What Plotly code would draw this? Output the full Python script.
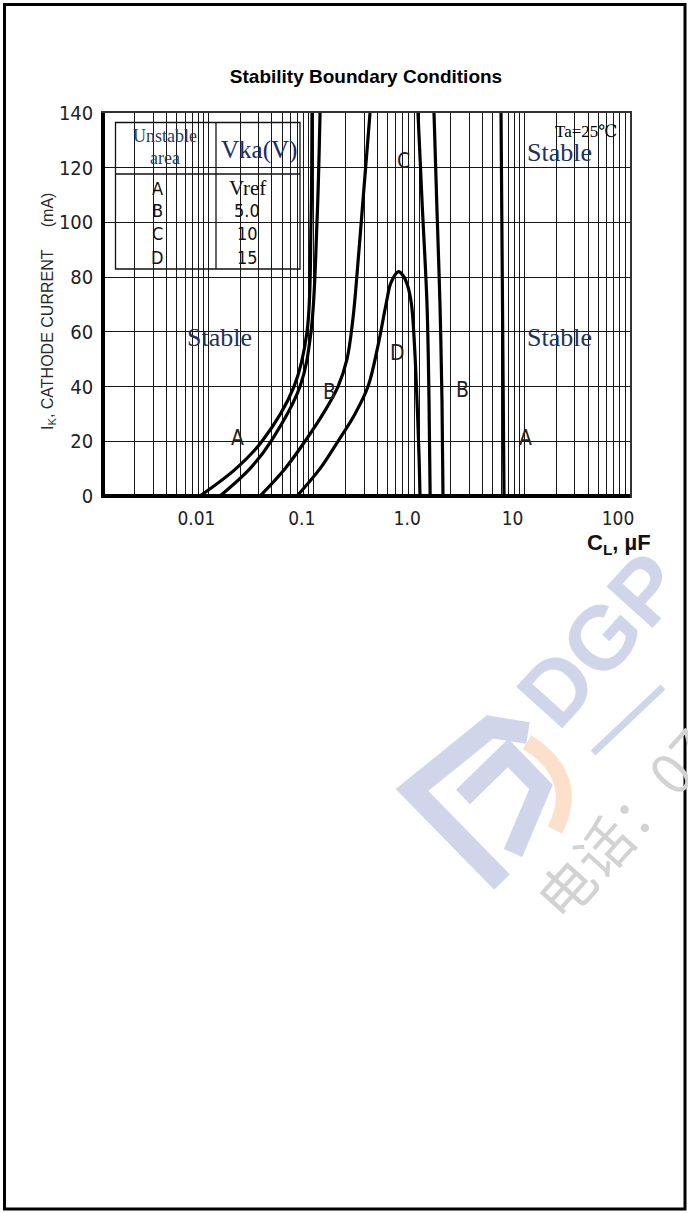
import plotly.graph_objects as go

# ---------------- data ----------------
TITLE = "Stability Boundary Conditions"
X_TICK_VALS = [0.01, 0.1, 1, 10, 100]
X_TICK_TEXT = ["0.01", "0.1", "1.0", "10", "100"]
Y_TICK_VALS = [0, 20, 40, 60, 80, 100, 120, 140]

# Boundaries of the unstable areas: C_L (µF) vs I_K (mA); None splits left/right branch
a_x = [0.00832, 0.01827, 0.03225, 0.06489, 0.08621, 0.09406, 0.0961,
       None, 5.974, 6.17, 6.377]
a_y = [0, 10, 20, 40, 60, 100, 140,
       None, 140, 70, 0]

b_x = [0.0129, 0.02481, 0.03926, 0.07396, 0.09406, 0.1072, 0.1146,
       None, 1.382, 1.475, 1.575, 1.645, 1.682]
b_y = [0, 10, 20, 40, 60, 100, 140,
       None, 140, 104.5, 69.8, 35.1, 0]

c_x = [0.0309, 0.0533, 0.0825, 0.1223, 0.1697, 0.2065, 0.2354, 0.2685, 0.3414,
       None, 0.974, 1.063, 1.186, 1.239, 1.270]
c_y = [0, 10, 20, 30, 40, 50, 65, 90, 140,
       None, 140, 108, 70, 35, 0]

d_x = [0.0693, 0.1145, 0.1697, 0.2460, 0.3267, 0.4066, 0.4842, 0.5402, 0.6362,
       0.7018, 0.7745, 0.8451, 0.9024, 0.9531, 0.9956, 1.0176]
d_y = [0, 10, 20, 30, 40, 55, 70, 78, 82,
       80.6, 77, 70, 55, 35, 15, 0]

legend_area = ["A", "B", "C", "D"]
legend_vka = ["Vref", "5.0", "10", "15"]
region_label_text = ["A", "B", "C", "D", "B", "A"]

# ---------------- layout helpers ----------------
W, H = 688, 1213
L, R, T, B = 103, 630, 113, 496


def px(x):
    return (x - L) / (R - L)


def py(y):
    return (B - y) / (B - T)


NARROW = "Liberation Sans Narrow, Arial Narrow, DejaVu Sans Condensed, sans-serif"
SERIF = "Liberation Serif, Times New Roman, DejaVu Serif, serif"
SANS = "Liberation Sans, Arial, Helvetica, sans-serif"
GRID = "#161616"
NAVY = "#22305e"

fig = go.Figure()
for xs, ys in [(a_x, a_y), (b_x, b_y), (c_x, c_y), (d_x, d_y)]:
    fig.add_trace(go.Scatter(
        x=xs, y=ys, mode="lines",
        line=dict(color="black", width=3.2, shape="spline", smoothing=1.0),
        hoverinfo="skip", showlegend=False, connectgaps=False,
    ))

shapes = []
annotations = []


def white_box(x0, y0, x1, y1):
    shapes.append(dict(type="rect", xref="paper", yref="paper",
                       x0=px(x0), x1=px(x1), y0=py(y1), y1=py(y0),
                       fillcolor="white", line=dict(width=0), layer="between"))


def text(x, y, s, size, family, color="#1a1a1a", **kw):
    annotations.append(dict(x=px(x), y=py(y), xref="paper", yref="paper", text=s,
                            showarrow=False, xanchor="center", yanchor="middle",
                            font=dict(size=size, family=family, color=color), **kw))


# white boxes that interrupt the grid behind labels
white_box(173, 317, 290, 357)     # Stable (left)
white_box(512, 313, 627, 360)     # Stable (right)
white_box(511, 124, 628, 170)     # Ta / Stable (top right)
white_box(387, 135, 417, 177)     # C
white_box(385, 333, 409, 371)     # D
white_box(316, 377, 340, 407)     # B left
white_box(446, 370, 474, 408)     # B right
white_box(218, 417, 248, 460)     # A left
white_box(510, 418, 535, 457)     # A right

# legend table
shapes.append(dict(type="rect", xref="paper", yref="paper", x0=px(115.5), x1=px(300),
                   y0=py(269), y1=py(122.5), fillcolor="white",
                   line=dict(color="#111", width=1.3), layer="between"))
shapes.append(dict(type="line", xref="paper", yref="paper", x0=px(115.5), x1=px(300),
                   y0=py(174), y1=py(174), line=dict(color="#111", width=1.3), layer="between"))
shapes.append(dict(type="line", xref="paper", yref="paper", x0=px(216), x1=px(216),
                   y0=py(122.5), y1=py(269), line=dict(color="#111", width=1.3), layer="between"))

text(165, 136, "Unstable", 18, SERIF, "#2d3b63")
text(165, 158, "area", 18, SERIF, "#2d3b63")
text(259, 150, "Vka(V)", 25, SERIF, "#1c2a66")
row_y = [188, 210, 233, 257]
for lab, val, yy in zip(legend_area, legend_vka, row_y):
    text(157, yy, lab, 18, NARROW, "#111")
    if val == "Vref":
        text(247, yy, val, 21, SERIF, "#111")
    else:
        text(247, yy, val, 18, NARROW, "#111")

# region labels
label_pos = [(237, 438), (329, 392), (403, 161), (397, 353), (462, 390), (525, 438)]
for s, (xx, yy) in zip(region_label_text, label_pos):
    text(xx, yy, s, 21, NARROW, "#222")

text(219, 337, "Stable", 26, SERIF, NAVY)
text(559, 337, "Stable", 26, SERIF, NAVY)
text(559, 152, "Stable", 26, SERIF, NAVY)
text(586, 131, "Ta=25℃", 17, SERIF, "#000")

# axis titles
text(48, 312, "I<sub>K</sub>, CATHODE CURRENT\u00a0\u00a0\u00a0\u00a0\u00a0(mA)", 16, SANS, "#2a2a2a",
     textangle=-90)
text(619, 544, "<b>C<sub>L</sub>, µF</b>", 22, SANS, "#111")

# heavy left / bottom frame lines
shapes.append(dict(type="line", xref="paper", yref="paper", x0=0, x1=0, y0=-0.004, y1=1,
                   line=dict(color="black", width=4), layer="above"))
shapes.append(dict(type="line", xref="paper", yref="paper", x0=-0.003, x1=1, y0=0, y1=0,
                   line=dict(color="black", width=4), layer="above"))

# ---- watermark (faint) ----
WM = "#d0d5ea"

text(600, 640, "<b>DGP</b>", 90, SANS, WM, textangle=-48)
shapes.append(dict(type="line", xref="paper", yref="paper", x0=px(593), y0=py(753),
                   x1=px(663), y1=py(687), line=dict(color=WM, width=7), layer="below"))
text(622, 822, "电话：07", 56, "Noto Sans CJK SC", "#d2d2d2", textangle=-48)


def pth(pts):
    s = "M {:.4f},{:.4f}".format(px(pts[0][0]), py(pts[0][1]))
    for p in pts[1:]:
        s += " L {:.4f},{:.4f}".format(px(p[0]), py(p[1]))
    return s


shapes.append(dict(type="path", xref="paper", yref="paper",
                   path=pth([(528, 733), (490, 727), (412, 790), (502, 882)]),
                   line=dict(color=WM, width=22), layer="below"))
shapes.append(dict(type="path", xref="paper", yref="paper",
                   path=pth([(463, 797), (508, 753), (541, 787), (513, 853)]),
                   line=dict(color=WM, width=20), layer="below"))
shapes.append(dict(type="path", xref="paper", yref="paper",
                   path="M {:.4f},{:.4f} Q {:.4f},{:.4f} {:.4f},{:.4f}".format(
                       px(527), py(742), px(582), py(777), px(555), py(830)),
                   line=dict(color="#fde0cc", width=16), layer="below"))

# page border
shapes.append(dict(type="rect", xref="paper", yref="paper", x0=px(4.5), x1=px(685),
                   y0=py(1209), y1=py(4.5), line=dict(color="black", width=3),
                   fillcolor="rgba(0,0,0,0)", layer="above"))

fig.update_layout(
    width=W, height=H, autosize=False,
    margin=dict(l=L, r=W - R, t=T, b=H - B, pad=0),
    paper_bgcolor="white", plot_bgcolor="white",
    title=dict(text="<b>" + TITLE + "</b>", x=366 / W, xref="container", xanchor="center",
               y=1 - 76 / H, yref="container", yanchor="middle",
               font=dict(family=SANS, size=19, color="#000")),
    xaxis=dict(type="log", range=[-3, 2], tickmode="array", tickvals=X_TICK_VALS,
               ticktext=X_TICK_TEXT, showgrid=True, gridcolor=GRID, gridwidth=1.3,
               minor=dict(dtick="D1", showgrid=True, gridcolor=GRID, gridwidth=1.3, ticks=""),
               ticks="", showline=True, linecolor="#333", linewidth=1.5, mirror=True,
               zeroline=False, tickfont=dict(family=NARROW, size=19, color="#222"),
               ticklabelshift=-12, ticklabelstandoff=4),
    yaxis=dict(range=[0, 140], tickmode="array", tickvals=Y_TICK_VALS, showgrid=True,
               gridcolor=GRID, gridwidth=1.3, ticks="", showline=True, linecolor="#333",
               linewidth=1.5, mirror=True, zeroline=False,
               tickfont=dict(family=NARROW, size=20, color="#222"),
               ticklabelstandoff=4),
    shapes=shapes, annotations=annotations,
)

fig.write_html(
    "out.html",
    config={"displayModeBar": False},
    post_script="document.body.style.margin='0px';document.body.style.overflow='hidden';",
)
